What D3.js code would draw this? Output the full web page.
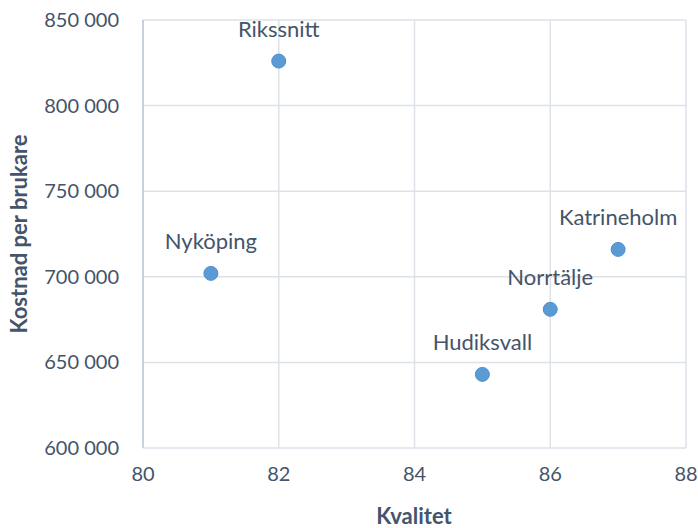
<!DOCTYPE html>
<html>
<head>
  <meta charset="utf-8">
  <script src="https://d3js.org/d3.v7.min.js"></script>
  <style>
    body { margin: 0; background: #fff; }
    text { font-family: Lato, "Open Sans", sans-serif; fill: #44546a; }
  </style>
</head>
<body>
  <script>
    var names = ["Rikssnitt", "Nyköping", "Hudiksvall", "Norrtälje", "Katrineholm"];
    var kvalitet = [82, 81, 85, 86, 87];
    var kostnad = [826000, 702000, 643000, 681000, 716000];
    var xTicks = [80, 82, 84, 86, 88];
    var yTicks = [600000, 650000, 700000, 750000, 800000, 850000];

    var svg = d3.select("body").append("svg")
      .attr("width", 698)
      .attr("height", 528);

    var x = d3.scaleLinear().domain([80, 88]).range([143, 686]);
    var y = d3.scaleLinear().domain([600000, 850000]).range([448, 20]);

    var fmt = function(d) { return d3.format(",")(d).replace(/,/g, " "); };

    // gridlines
    svg.append("g").selectAll("line").data(xTicks.slice(1)).enter().append("line")
      .attr("x1", d => x(d)).attr("x2", d => x(d))
      .attr("y1", y(850000)).attr("y2", y(600000))
      .attr("stroke", "#dde1e8").attr("stroke-width", 1.5);
    svg.append("g").selectAll("line").data(yTicks.slice(1)).enter().append("line")
      .attr("x1", x(80)).attr("x2", x(88))
      .attr("y1", d => y(d)).attr("y2", d => y(d))
      .attr("stroke", "#dde1e8").attr("stroke-width", 1.5);

    // axis lines
    svg.append("line")
      .attr("x1", x(80)).attr("x2", x(80)).attr("y1", y(850000)).attr("y2", y(600000))
      .attr("stroke", "#b7c2d6").attr("stroke-width", 1.5);
    svg.append("line")
      .attr("x1", x(80)).attr("x2", x(88)).attr("y1", y(600000)).attr("y2", y(600000))
      .attr("stroke", "#dde1e8").attr("stroke-width", 1.5);

    // tick labels
    svg.append("g").selectAll("text").data(xTicks).enter().append("text")
      .attr("x", d => x(d)).attr("y", 481)
      .attr("text-anchor", "middle")
      .attr("font-size", 20)
      .text(d => d);
    svg.append("g").selectAll("text").data(yTicks).enter().append("text")
      .attr("x", 119).attr("y", d => y(d))
      .attr("dy", "0.35em")
      .attr("text-anchor", "end")
      .attr("font-size", 20)
      .text(fmt);

    // axis titles
    svg.append("text")
      .attr("x", 414).attr("y", 524)
      .attr("text-anchor", "middle")
      .attr("font-size", 22).attr("font-weight", "bold")
      .text("Kvalitet");
    svg.append("text")
      .attr("transform", "translate(27,234) rotate(-90)")
      .attr("text-anchor", "middle")
      .attr("font-size", 22).attr("font-weight", "bold")
      .text("Kostnad per brukare");

    // points
    var pts = svg.append("g").selectAll("g").data(names).enter().append("g");
    pts.append("circle")
      .attr("cx", (d, i) => x(kvalitet[i]))
      .attr("cy", (d, i) => y(kostnad[i]))
      .attr("r", 7)
      .attr("fill", "#5b9bd5")
      .attr("stroke", "#4f8fcc")
      .attr("stroke-width", 1);
    pts.append("text")
      .attr("x", (d, i) => x(kvalitet[i]))
      .attr("y", (d, i) => y(kostnad[i]) - 32)
      .attr("dy", "0.35em")
      .attr("text-anchor", "middle")
      .attr("font-size", 22)
      .text(d => d);
  </script>
</body>
</html>
